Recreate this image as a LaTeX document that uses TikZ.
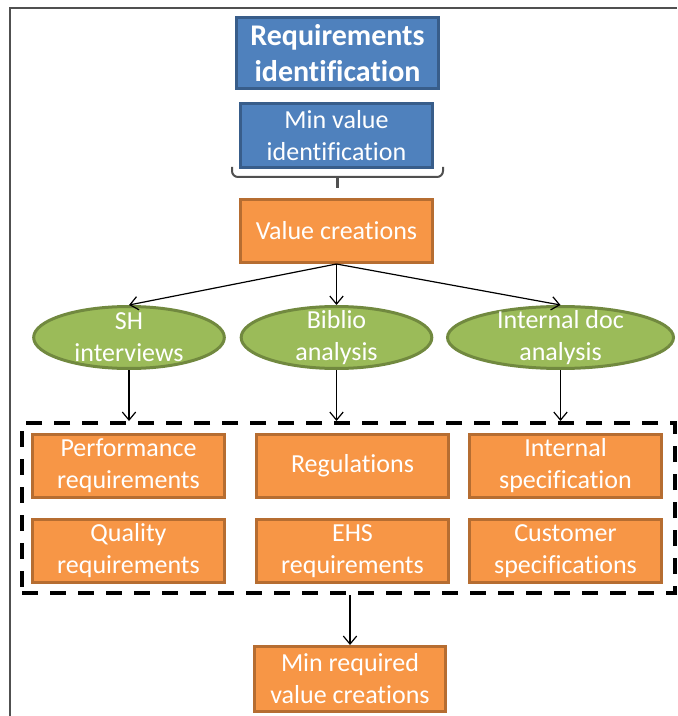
\documentclass[tikz,border=0pt]{standalone}
\usepackage{fontspec}
\setmainfont{Carlito}[Ligatures=NoCommon]
\usetikzlibrary{arrows.meta,shapes.geometric}
\definecolor{boxorange}{HTML}{F79646}
\definecolor{lineorange}{HTML}{B66D31}
\definecolor{boxblue}{HTML}{4F81BD}
\definecolor{lineblue}{HTML}{385D8A}
\definecolor{boxgreen}{HTML}{9BBB59}
\definecolor{linegreen}{HTML}{71893F}
\definecolor{framegray}{HTML}{505050}

\begin{document}
\begin{tikzpicture}[x=0.75pt,y=-0.75pt,
		every node/.style={font=\fontsize{19.5}{24}\selectfont, text=white, align=center, inner sep=0pt},
		bluebox/.style={draw=lineblue, fill=boxblue, line width=2.25pt, minimum width=144pt, minimum height=48pt},
		orangebox/.style={draw=lineorange, fill=boxorange, line width=2.25pt, minimum width=144pt, minimum height=47.25pt},
		oval/.style={ellipse, draw=linegreen, fill=boxgreen, line width=2.25pt, minimum width=143pt, minimum height=46.5pt},
		group/.style={draw=black, line width=3pt, dash pattern=on 12pt off 9pt, minimum width=489.75pt, minimum height=127.5pt},
		arr/.style={-{Straight Barb[length=6pt,width=10pt]}, line width=0.9pt, draw=black}]
		\useasboundingbox (0,0) rectangle (677,716);
		\draw[framegray, line width=1.5pt] (9.5,716) -- (9.5,8) -- (677,8);

		\node[bluebox, minimum width=151.5pt, minimum height=53.25pt, font=\fontsize{22.5}{26.5}\selectfont\bfseries] (reqid) at (337.5,53) {Requirements\\identification};
		\node[bluebox] (minval) at (336.5,135.5) {Min value\\identification};
		\draw[framegray, line width=1.5pt, rounded corners=4.5pt] (232,167) -- (232,177) -- (443,177) -- (443,167);
		\draw[framegray, line width=2.25pt] (337.5,177) -- (337.5,188);
		\node[orangebox] (valcre) at (336.5,231) {Value creations};

		\node[oval, label={center:SH\\interviews}] (sh) at (129,337.5) {};
		\node[oval, label={center:Biblio\\analysis}] (biblio) at (336.5,337.5) {};
		\node[oval, minimum width=169.5pt, label={center:Internal doc\\analysis}] (intdoc) at (560.5,337.5) {};

		\draw[arr] (valcre.south) -- (sh.north);
		\draw[arr] (valcre.south) -- (biblio.north);
		\draw[arr] (valcre.south) -- (intdoc.north);

		\node[group] (reqs) at (348.5,508) {};
		\node[orangebox] (perf) at (128.5,466) {Performance\\requirements};
		\node[orangebox] (regul) at (352.5,466) {Regulations};
		\node[orangebox] (intspec) at (565.5,466) {Internal\\specification};
		\node[orangebox] (quality) at (128.5,551) {Quality\\requirements};
		\node[orangebox] (ehs) at (352.5,551) {EHS\\requirements};
		\node[orangebox] (custspec) at (565.5,551) {Customer\\specifications};

		\draw[arr] (sh.south) -- (sh.south |- reqs.north);
		\draw[arr] (biblio.south) -- (biblio.south |- reqs.north);
		\draw[arr] (intdoc.south) -- (intdoc.south |- reqs.north);

		\node[orangebox, minimum width=143.25pt, minimum height=48.75pt] (minreq) at (350,679) {Min required\\value creations};
		\draw[arr] (minreq.north |- reqs.south) -- (minreq.north);
	\end{tikzpicture}
\end{document}
